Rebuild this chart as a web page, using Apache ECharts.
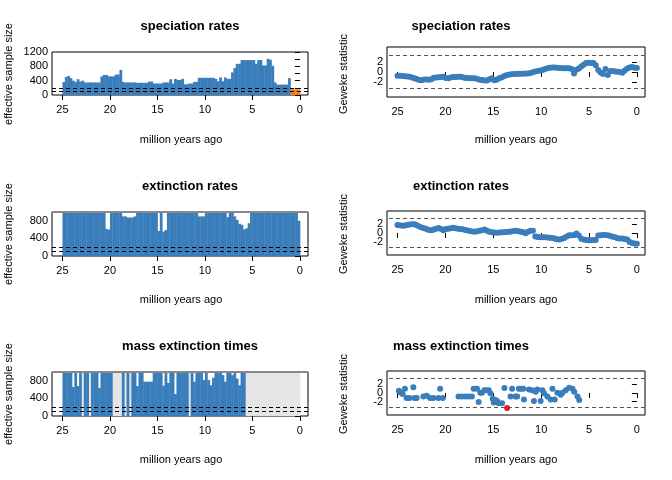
<!DOCTYPE html>
<html>
<head>
<meta charset="utf-8">
<script src="https://cdn.jsdelivr.net/npm/echarts@6/dist/echarts.min.js"></script>
<style>html,body{margin:0;padding:0;background:#fff}#main{width:672px;height:480px}</style>
</head>
<body>
<div id="main"></div>
<script>
// effective sample size per 0.25 Myr bin, from 25 Ma to 0 Ma
var specEss = [360,500,530,470,400,365,440,375,400,350,350,350,350,350,350,350,520,560,560,520,
  520,520,570,570,700,365,350,350,350,350,350,340,340,340,340,340,375,375,320,320,
  320,320,350,350,350,440,320,450,420,420,450,300,300,320,320,365,365,480,480,480,
  480,480,480,480,450,385,490,385,490,450,450,630,750,870,870,975,975,975,975,975,
  975,870,975,975,825,825,1010,985,815,350,290,290,290,290,290,470,160,160,160,160];
var extEss = [1000,1000,1000,1000,1000,1000,1000,1000,1000,1000,1000,1000,1000,1000,1000,1000,1000,1000,615,600,
  1000,1000,1000,1000,1000,900,900,875,875,875,900,1000,1000,1000,1000,1000,1000,1000,1000,1000,
  570,1000,555,590,1000,1000,1000,1000,1000,1000,1000,1000,1000,1000,1000,1000,1000,900,900,900,
  1000,1000,1000,1000,1000,1000,1000,1000,1000,885,1000,1000,900,820,730,710,605,630,745,1000,
  1000,1000,1000,1000,1000,1000,1000,1000,1000,1000,1000,1000,1000,1000,1000,1000,1000,1000,1000,800];
var massEss = [1000,1000,1000,1000,660,1000,680,1000,null,1000,1000,null,1000,1000,1000,640,1000,1000,1000,1000,
  1000,null,null,null,null,1000,null,1000,null,1000,1000,680,1000,1000,780,780,780,780,1000,1000,
  1000,1000,690,1000,750,1000,1000,500,1000,1000,1000,1000,1000,null,1000,780,1000,1000,1000,820,
  1000,820,700,870,1000,1000,1000,930,780,1000,1000,930,1000,850,700,1000,1000,null,null,null,
  null,null,null,null,null,null,null,null,null,null,null,null,null,null,null,null,null,null,null,null];

// Geweke statistics, 100 points from 25 Ma to 0 Ma
var specGew = [-0.75,-0.75,-0.8,-0.85,-0.9,-0.95,-1.1,-1.25,-1.45,-1.65,-1.7,-1.55,-1.55,-1.6,-1.5,-1.15,-1.1,-1.05,-1.0,-0.95,
  -1.2,-1.25,-1.1,-1.0,-1.0,-0.95,-0.95,-1.05,-1.2,-1.2,-1.25,-1.3,-1.3,-1.45,-1.6,-1.65,-1.75,-1.75,-1.5,-1.3,
  -1.7,-1.6,-1.3,-1.1,-0.85,-0.65,-0.55,-0.45,-0.4,-0.4,-0.35,-0.35,-0.35,-0.3,-0.3,-0.2,-0.05,0.1,0.2,0.3,
  0.4,0.6,0.75,0.85,0.9,0.9,0.85,0.8,0.75,0.75,0.75,0.75,0.6,-0.3,0.45,0.7,1.1,1.5,1.85,1.9,
  1.85,1.85,1.4,0.4,-0.1,-0.4,0.6,-0.6,0.2,0.2,0.1,0.05,0.0,-0.15,0.3,0.7,0.9,1.0,0.85,0.8];
var extGew = [1.85,1.8,1.7,1.75,1.85,1.95,2.0,2.05,1.8,1.5,1.3,1.1,0.9,0.7,0.65,0.8,1.0,1.15,0.95,0.65,
  0.9,1.0,1.1,1.2,1.1,1.0,0.95,0.85,0.7,0.6,0.45,0.35,0.3,0.4,0.5,0.65,0.8,0.55,0.3,0.2,
  0.1,0.05,0.1,0.15,0.15,0.25,0.3,0.35,0.45,0.5,0.4,0.3,0.15,-0.05,0.3,0.5,0.5,-0.8,-0.9,-1.0,
  -1.0,-1.0,-1.05,-1.1,-1.15,-1.3,-1.45,-1.5,-1.35,-1.15,-0.8,-0.55,-0.55,-0.5,-0.1,-0.6,-1.35,-1.5,-1.65,-1.7,
  -1.7,-1.65,-1.6,-0.6,-0.5,-0.45,-0.45,-0.55,-0.7,-0.85,-1.0,-1.2,-1.3,-1.3,-1.4,-1.5,-2.1,-2.3,-2.45,-2.5];
var massAges = [24.86,24.65,24.47,24.23,24.05,23.77,23.35,23.25,23.0,22.3,21.95,21.6,21.25,20.73,20.55,20.27,
  18.63,18.28,17.93,17.58,17.23,17.05,16.7,16.53,16.35,16.18,15.93,15.72,15.48,15.3,15.06,14.95,14.78,14.6,
  14.43,14.08,13.83,13.55,13.2,13.03,12.68,12.5,12.33,12.08,11.87,11.8,11.27,10.92,10.75,10.57,10.4,10.05,
  9.87,9.7,9.35,9.0,8.82,8.58,8.3,7.95,7.77,7.42,7.07,6.72,6.55,6.2,6.02];
var massGew = [0.5,0.07,-0.21,1.0,-1.14,-1.14,1.36,-1.14,-1.14,-0.79,-0.64,-1.14,-1.14,-1.14,1.0,-1.14,
  -0.79,-0.79,-0.79,-0.79,-0.79,1.0,1.0,-2.07,0.07,0.07,0.64,0.64,0.64,-0.07,-1.36,-2.21,-1.64,-1.86,
  -2.36,-2.36,1.14,-3.45,-0.79,1.0,-0.79,-0.79,1.0,1.0,1.0,-1.5,0.79,0.64,-1.86,0.29,0.79,-1.86,
  0.64,-0.07,-0.79,-1.5,1.0,-1.5,0.07,-0.43,0.07,0.64,1.21,1.0,0.29,-0.79,-1.64];

var essLines = [100, 200];
var gewLimit = 3.4;

var blue = '#3a7dbb', orange = '#f07f14', grey = '#e5e5e5';
var font = 'Liberation Sans';
var myChart = echarts.init(document.getElementById('main'));

function binData(vals) {
  var out = [];
  vals.forEach(function (v, i) {
    if (v !== null) out.push([25 - 0.25 * i, 25 - 0.25 * (i + 1), v]);
  });
  return out;
}
function naData(vals) {
  var out = [];
  vals.forEach(function (v, i) {
    if (v === null) out.push([25 - 0.25 * i, 25 - 0.25 * (i + 1), 1000]);
  });
  return out;
}
function barSeries(idx, data, colorFn, lines) {
  var s = {
    type: 'custom', xAxisIndex: idx, yAxisIndex: idx, data: data,
    encode: { x: [0, 1], y: 2 }, clip: true, silent: true,
    renderItem: function (params, api) {
      var p0 = api.coord([api.value(0), api.value(2)]);
      var p1 = api.coord([api.value(1), 0]);
      return { type: 'rect', shape: { x: p0[0], y: p0[1], width: p1[0] - p0[0] + 0.4, height: p1[1] - p0[1] },
        style: { fill: colorFn(api.value(2)) } };
    }
  };
  if (lines) {
    s.markLine = { symbol: 'none', silent: true, label: { show: false }, data: lines };
  }
  return s;
}
function dashed(v, c) { return { yAxis: v, lineStyle: { type: [4, 3], color: c, width: 1.2 } }; }
function solid(v) { return { yAxis: v, lineStyle: { type: 'solid', color: '#888', width: 2 } }; }
function essColor(v) { return v < 200 ? orange : blue; }

// main plot boxes
var mainGrids = [
  { left: 52, top: 52, width: 256, height: 43 },
  { left: 387, top: 47, width: 258, height: 50 },
  { left: 52, top: 212, width: 256, height: 44 },
  { left: 387, top: 211, width: 258, height: 44 },
  { left: 52, top: 372, width: 256, height: 44 },
  { left: 387, top: 371, width: 258, height: 44 }
];
var xMin = -0.85, xMax = 26.1;
var grids = [], xAxes = [], yAxes = [];
mainGrids.forEach(function (g, i) {
  var right = i % 2 === 1;
  grids.push({ left: g.left, top: g.top, width: g.width, height: g.height, show: true, borderColor: '#000', borderWidth: 1 });
  xAxes.push({ gridIndex: i, type: 'value', inverse: true, min: xMin, max: xMax, show: false });
  if (right) {
    yAxes.push({ gridIndex: i, type: 'value', min: -5.1, max: 5.1, show: false });
  } else {
    yAxes.push({ gridIndex: i, type: 'value', min: 0, max: i === 0 ? 1200 : 1000, interval: 200,
      splitLine: { show: false }, axisLine: { show: false },
      axisTick: { length: 5, lineStyle: { color: '#000' } },
      axisLabel: { color: '#000', fontSize: 11, margin: 4, fontFamily: font,
        formatter: function (v) { return v % 400 === 0 ? String(v) : ''; } } });
  }
});
// tick-only grids spanning 25..0 (and -4..4 for Geweke)
mainGrids.forEach(function (g, i) {
  var right = i % 2 === 1;
  var pxx = g.width / (xMax - xMin);
  var left = g.left + (xMax - 25) * pxx;
  var top = g.top, h = g.height;
  if (right) {
    var pxy = g.height / 10.2;
    top = g.top + g.height / 2 - 4 * pxy;
    h = 8 * pxy;
  }
  var idx = grids.length;
  grids.push({ left: left, top: top, width: 25 * pxx, height: h, show: false });
  xAxes.push({ gridIndex: idx, type: 'value', inverse: true, min: 0, max: 25, interval: 5,
    offset: 5 + (g.top + g.height - top - h),
    splitLine: { show: false }, axisLine: { show: false },
    axisTick: { length: 5, lineStyle: { color: '#000' } },
    axisLabel: { color: '#000', fontSize: 11, margin: 4, fontFamily: font } });
  if (right) {
    yAxes.push({ gridIndex: idx, type: 'value', min: -4, max: 4, interval: 2, offset: left - g.left,
      splitLine: { show: false }, axisLine: { show: false },
      axisTick: { length: 5, lineStyle: { color: '#000' } },
      axisLabel: { color: '#000', fontSize: 11, margin: 4, fontFamily: font } });
  } else {
    yAxes.push({ gridIndex: idx, type: 'value', min: 0, max: 1, show: false });
  }
});

function gewSeries(idx, data) {
  return { type: 'scatter', xAxisIndex: idx, yAxisIndex: idx, data: data, symbolSize: 6, silent: true,
    itemStyle: { color: function (p) { return Math.abs(p.value[1]) > gewLimit ? '#e41a1c' : blue; }, opacity: 1 },
    markLine: { symbol: 'none', silent: true, label: { show: false },
      data: [dashed(gewLimit, '#555'), dashed(-gewLimit, '#555')] } };
}
function gewData(vals) { return vals.map(function (v, i) { return [25 * (1 - i / 99), v]; }); }

var series = [
  barSeries(0, binData(specEss), essColor, [dashed(essLines[0], '#000'), dashed(essLines[1], '#000')]),
  gewSeries(1, gewData(specGew)),
  barSeries(2, binData(extEss), essColor, [dashed(essLines[0], '#000'), dashed(essLines[1], '#000'), solid(1000)]),
  gewSeries(3, gewData(extGew)),
  barSeries(4, naData(massEss), function () { return grey; }),
  barSeries(4, binData(massEss), essColor, [dashed(essLines[0], '#000'), dashed(essLines[1], '#000'), solid(1000)]),
  gewSeries(5, massAges.map(function (a, i) { return [a, massGew[i]]; }))
];

var titles = ['speciation rates', 'extinction rates', 'mass extinction times'];
var rowTop = [26, 186, 346];
var graphic = [];
titles.forEach(function (t, r) {
  [190, 461].forEach(function (cx) {
    graphic.push({ type: 'text', x: cx, y: rowTop[r], style: { text: t, textAlign: 'center', textVerticalAlign: 'middle',
      font: 'bold 13px "Liberation Sans"', fill: '#000' } });
  });
  [181, 516].forEach(function (cx) {
    graphic.push({ type: 'text', x: cx, y: rowTop[r] + 114, style: { text: 'million years ago', textAlign: 'center',
      textVerticalAlign: 'middle', font: '11px "Liberation Sans"', fill: '#000' } });
  });
  graphic.push({ type: 'text', x: 9, y: rowTop[r] + 48, rotation: Math.PI / 2, style: { text: 'effective sample size',
    textAlign: 'center', textVerticalAlign: 'middle', font: '11px "Liberation Sans"', fill: '#000' } });
  graphic.push({ type: 'text', x: 344, y: rowTop[r] + 48, rotation: Math.PI / 2, style: { text: 'Geweke statistic',
    textAlign: 'center', textVerticalAlign: 'middle', font: '11px "Liberation Sans"', fill: '#000' } });
});

myChart.setOption({
  animation: false,
  grid: grids, xAxis: xAxes, yAxis: yAxes, series: series, graphic: graphic
});
</script>
</body>
</html>
